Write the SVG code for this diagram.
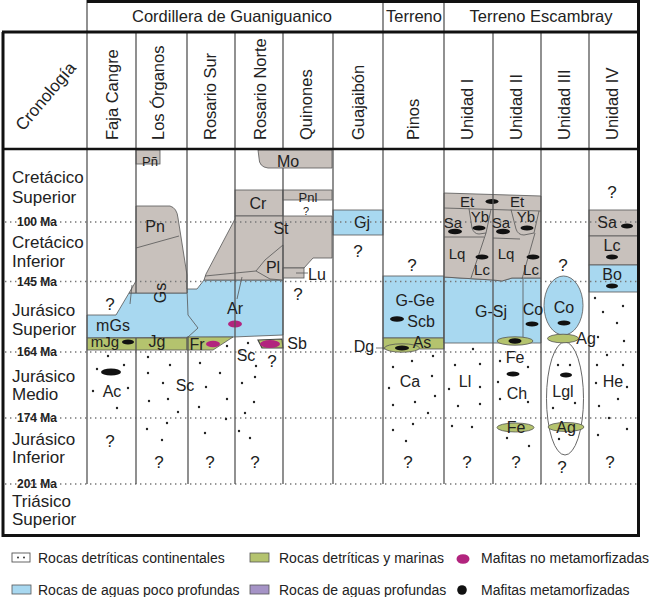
<svg xmlns="http://www.w3.org/2000/svg" width="650" height="597" viewBox="0 0 650 597">
<style>
text{font-family:"Liberation Sans",Arial,sans-serif;fill:#222}
.t{font-size:16px;text-anchor:middle}
.s{font-size:15px;text-anchor:middle}
.xs{font-size:13px;text-anchor:middle}
.q{font-size:17px;text-anchor:middle}
.era{font-size:17px}
.ma{font-size:12px;font-weight:bold}
.hd{font-size:16.5px}
.lg{font-size:14px}
.gy{fill:#c8c1bc;stroke:#555;stroke-width:0.8}
.bl{fill:#a8d8f0;stroke:#555;stroke-width:0.8}
.gn{fill:#b4c36e;stroke:#555;stroke-width:0.8}
.mg{fill:#b2247e}
.k{fill:#111}
.ln{fill:none;stroke:#555;stroke-width:0.8}
.col{fill:none;stroke:#555;stroke-width:1.3}
.dl{fill:none;stroke:#777;stroke-width:1.3;stroke-dasharray:1.4 3.6}
.d{fill:#222}
</style>

<g id="fills">
  <!-- Guaniguanico blue -->
  <path class="bl" d="M87,315 L116,315 L129,293 L187,293 L187,289 L197,289 L204,280 L283,280 L283,335 L233,337 L87,338 Z"/>
  <!-- Los Organos gray Pn -->
  <path class="gy" d="M136,206 L170,206 Q177,208 178,218 L187,275 L187,293 L129,293 L136,281 Z"/>
  <path class="ln" d="M136,248 L179,236"/>
  <rect class="gy" x="136" y="150" width="24" height="14"/>
  <!-- Mo -->
  <path class="gy" d="M258,150 H332 V168 H268 Q259,167 259,158 Z"/>
  <!-- Cr / Pnl -->
  <rect class="gy" x="235" y="190" width="48" height="26"/>
  <rect class="gy" x="283" y="190" width="49" height="10"/>
  <!-- St -->
  <path class="gy" d="M235,216 L332,216 L332,258 L313,258 L304,268 L283,268 L283,280 L204,280 L206,274 L235,219 Z"/>
  <path class="ln" d="M205,276 L256,271"/>
  <path class="gy" d="M283,245 L265,260 L256,271 L270,279 L283,280 Z"/>
  <rect class="gy" x="283" y="268" width="21" height="10"/>
  <path class="ln" d="M296,273 L308,273"/>
  <path class="ln" d="M242,277 L237,299"/>
  <path class="ln" d="M132,285 L130,304"/>
  <!-- greens -->
  <rect class="gn" x="87" y="338" width="100" height="12"/>
  <path class="gn" d="M187,337 L233,337 L213,350 L187,350 Z"/>
  <path d="M258,340 L282,339 L283,348 L262,348 Z" fill="#b4c36e" stroke="#444" stroke-width="1.2"/>
  <path class="ln" d="M187,289 L188,315 L198,328 L188,337"/>
  <!-- Gj -->
  <rect class="bl" x="333" y="210" width="50" height="25"/>
  <!-- Pinos -->
  <rect class="bl" x="383" y="276" width="61" height="62"/>
  <rect class="gn" x="383" y="338" width="61" height="11"/>
  <!-- Escambray I/II -->
  <path class="bl" d="M444,277 L460,278 L493,280 L502,281 L512,278 L541,278 V343 H444 Z"/>
  <path class="ln" d="M523,279 V343"/>
  <path class="gy" d="M444,193 L541,196 L541,278 L512,278 L502,281 L493,280 L460,278 L444,277 Z"/>
  <path class="ln" d="M444,208 L541,211"/>
  <path class="ln" d="M469,208.5 L472,228 Q474,234 479,234 L486,233 L491,209.5"/>
  <path class="ln" d="M444,237 L484,237"/>
  <path class="ln" d="M486,233 L471,278"/>
  <path class="ln" d="M511,209.5 L516,229 Q518,235 524,235 L534,233 L539,211"/>
  <path class="ln" d="M493,238 L520,239"/>
  <path class="ln" d="M535,233 L522,279"/>
  <!-- Unidad III -->
  <ellipse class="bl" cx="563.5" cy="305.5" rx="19.5" ry="29.5"/>
  <ellipse cx="565" cy="398.5" rx="18.5" ry="56.5" fill="none" stroke="#555" stroke-width="0.9"/>
  <!-- Unidad IV -->
  <rect class="gy" x="589" y="210" width="49" height="26"/>
  <rect class="gy" x="589" y="236" width="49" height="29"/>
  <rect class="bl" x="589" y="265" width="49" height="27"/>
</g>

<g id="time-lines" class="dl">
  <path d="M5,222 H637"/>
  <path d="M5,281.5 H637"/>
  <path d="M5,352 H637"/>
  <path d="M5,418 H637"/>
  <path d="M5,484 H637"/>
</g>

<g id="ellipses">
  <ellipse class="k" cx="128" cy="342" rx="6" ry="2.6"/>
  <ellipse class="k" cx="111" cy="372" rx="10" ry="3.6"/>
  <ellipse class="mg" cx="213" cy="344" rx="7" ry="3.3"/>
  <ellipse class="mg" cx="235" cy="324" rx="7" ry="3.5"/>
  <ellipse class="mg" cx="270" cy="344" rx="10" ry="4"/>
  <ellipse class="k" cx="397" cy="319" rx="7" ry="2.8"/>
  <ellipse cx="402" cy="348" rx="17.5" ry="4.2" fill="#b4c36e" stroke="#555" stroke-width="0.8"/>
  <ellipse class="k" cx="402" cy="348" rx="7" ry="2.6"/>
  <ellipse class="k" cx="492" cy="201.5" rx="6.5" ry="2.6"/>
  <ellipse class="k" cx="455" cy="231.5" rx="7" ry="2.8"/>
  <ellipse class="k" cx="479" cy="228" rx="6.5" ry="2.6"/>
  <ellipse class="k" cx="482" cy="257" rx="6.5" ry="2.6"/>
  <ellipse class="k" cx="503" cy="231.5" rx="7" ry="2.8"/>
  <ellipse class="k" cx="527" cy="228" rx="6.5" ry="2.6"/>
  <ellipse class="k" cx="533" cy="257" rx="6.5" ry="2.6"/>
  <ellipse class="k" cx="532" cy="324" rx="6.5" ry="2.6"/>
  <ellipse cx="515" cy="341" rx="18" ry="4.2" fill="#b4c36e" stroke="#555" stroke-width="0.8"/>
  <ellipse class="k" cx="515" cy="341" rx="6.5" ry="2.8"/>
  <ellipse class="k" cx="564" cy="323" rx="6.5" ry="2.6"/>
  <ellipse cx="563" cy="338.5" rx="15.5" ry="4.3" fill="#b4c36e" stroke="#555" stroke-width="0.8"/>
  <ellipse class="k" cx="513" cy="374" rx="6.5" ry="2.6"/>
  <ellipse cx="515.5" cy="427.5" rx="18.5" ry="4.5" fill="#b4c36e" stroke="#555" stroke-width="0.8"/>
  <ellipse class="k" cx="566" cy="375" rx="6" ry="2.5"/>
  <ellipse cx="566" cy="427" rx="18" ry="4.5" fill="#b4c36e" stroke="#555" stroke-width="0.8"/>
  <ellipse class="k" cx="627" cy="226" rx="6" ry="2.5"/>
  <ellipse class="k" cx="612" cy="257" rx="6" ry="2.5"/>
  <ellipse class="k" cx="612" cy="286" rx="6" ry="2.5"/>
  <path class="ln" d="M376,348 L385,348"/>
</g>

<g id="dots" class="d">
  <circle cx="108" cy="356" r="1.2"/><circle cx="124" cy="365" r="1.2"/><circle cx="97" cy="369" r="1.2"/><circle cx="93" cy="391" r="1.2"/><circle cx="128" cy="388" r="1.2"/><circle cx="117" cy="408" r="1.2"/>
  <circle cx="148" cy="357" r="1.2"/><circle cx="170" cy="365" r="1.2"/><circle cx="148" cy="373" r="1.2"/><circle cx="163" cy="383" r="1.2"/><circle cx="149" cy="401" r="1.2"/><circle cx="168" cy="399" r="1.2"/><circle cx="178" cy="412" r="1.2"/><circle cx="167" cy="423" r="1.2"/><circle cx="147" cy="429" r="1.2"/><circle cx="162" cy="440" r="1.2"/>
  <circle cx="200" cy="363" r="1.2"/><circle cx="220" cy="373" r="1.2"/><circle cx="206" cy="387" r="1.2"/><circle cx="227" cy="399" r="1.2"/><circle cx="199" cy="407" r="1.2"/><circle cx="226" cy="419" r="1.2"/><circle cx="205" cy="433" r="1.2"/><circle cx="227" cy="346" r="1.2"/>
  <circle cx="248" cy="343" r="1.2"/><circle cx="256" cy="366" r="1.2"/><circle cx="242" cy="383" r="1.2"/><circle cx="255" cy="377" r="1.2"/><circle cx="254" cy="402" r="1.2"/><circle cx="245" cy="413" r="1.2"/><circle cx="239" cy="431" r="1.2"/><circle cx="250" cy="438" r="1.2"/>
  <circle cx="433" cy="356" r="1.2"/><circle cx="412" cy="361" r="1.2"/><circle cx="393" cy="367" r="1.2"/><circle cx="432" cy="376" r="1.2"/><circle cx="389" cy="388" r="1.2"/><circle cx="393" cy="405" r="1.2"/><circle cx="415" cy="402" r="1.2"/><circle cx="435" cy="396" r="1.2"/><circle cx="428" cy="413" r="1.2"/><circle cx="393" cy="430" r="1.2"/><circle cx="413" cy="424" r="1.2"/><circle cx="406" cy="441" r="1.2"/>
  <circle cx="473" cy="349" r="1.2"/><circle cx="455" cy="365" r="1.2"/><circle cx="480" cy="364" r="1.2"/><circle cx="449" cy="389" r="1.2"/><circle cx="480" cy="387" r="1.2"/><circle cx="458" cy="406" r="1.2"/><circle cx="480" cy="404" r="1.2"/><circle cx="452" cy="426" r="1.2"/><circle cx="472" cy="427" r="1.2"/>
  <circle cx="500" cy="361" r="1.2"/><circle cx="528" cy="367" r="1.2"/><circle cx="498" cy="382" r="1.2"/><circle cx="500" cy="399" r="1.2"/><circle cx="528" cy="402" r="1.2"/><circle cx="507" cy="438" r="1.2"/><circle cx="529" cy="446" r="1.2"/>
  <circle cx="558" cy="365" r="1.2"/><circle cx="570" cy="365" r="1.2"/><circle cx="553" cy="408" r="1.2"/><circle cx="575" cy="403" r="1.2"/><circle cx="559" cy="439" r="1.2"/>
  <circle cx="595" cy="298" r="1.2"/><circle cx="623" cy="306" r="1.2"/><circle cx="603" cy="312" r="1.2"/><circle cx="617" cy="323" r="1.2"/><circle cx="598" cy="337" r="1.2"/><circle cx="624" cy="341" r="1.2"/><circle cx="607" cy="355" r="1.2"/><circle cx="597" cy="365" r="1.2"/><circle cx="623" cy="365" r="1.2"/><circle cx="596" cy="383" r="1.2"/><circle cx="627" cy="387" r="1.2"/><circle cx="599" cy="406" r="1.2"/><circle cx="618" cy="399" r="1.2"/><circle cx="609" cy="418" r="1.2"/><circle cx="627" cy="429" r="1.2"/><circle cx="598" cy="435" r="1.2"/>
</g>

<g id="column-lines" class="col">
  <path d="M87,0 V484"/>
  <path d="M136,32 V293 M136,338 V484"/>
  <path d="M187,32 V289 M188,337 V484"/>
  <path d="M235,32 V484"/>
  <path d="M283,32 V149 M283,168 V484"/>
  <path d="M333,32 V484"/>
  <path d="M383,0 V484"/>
  <path d="M444,0 V484"/>
  <path d="M493,32 V484"/>
  <path d="M541,32 V484"/>
  <path d="M589,32 V484"/>
</g>

<g id="frame" fill="none" stroke="#111">
  <path d="M87,1.5 H638.5 V535.5 H3 V32" stroke-width="3"/>
  <path d="M2,32 H640" stroke-width="3"/>
  <path d="M3,149 H639" stroke-width="2.5"/>
</g>

<g id="header">
  <text class="hd" x="232" y="22" text-anchor="middle">Cordillera de Guaniguanico</text>
  <text class="hd" x="414" y="22" text-anchor="middle">Terreno</text>
  <text class="hd" x="541" y="22" text-anchor="middle">Terreno Escambray</text>
  <text class="era" transform="translate(50,100) rotate(-50)" text-anchor="middle">Cronología</text>
  <text class="hd" transform="translate(118,140) rotate(-90)">Faja Cangre</text>
  <text class="hd" transform="translate(164,140) rotate(-90)">Los Órganos</text>
  <text class="hd" transform="translate(216,140) rotate(-90)">Rosario Sur</text>
  <text class="hd" transform="translate(266,140) rotate(-90)">Rosario Norte</text>
  <text class="hd" transform="translate(312,140) rotate(-90)">Quinones</text>
  <text class="hd" transform="translate(364,140) rotate(-90)">Guajaibón</text>
  <text class="hd" transform="translate(419,140) rotate(-90)">Pinos</text>
  <text class="hd" transform="translate(473,140) rotate(-90)">Unidad I</text>
  <text class="hd" transform="translate(522,140) rotate(-90)">Unidad II</text>
  <text class="hd" transform="translate(570,140) rotate(-90)">Unidad III</text>
  <text class="hd" transform="translate(618,140) rotate(-90)">Unidad IV</text>
</g>

<g id="chronology">
  <text class="era" x="12" y="183">Cretácico</text>
  <text class="era" x="12" y="203">Superior</text>
  <text class="ma" x="17" y="226">100 Ma</text>
  <text class="era" x="12" y="248">Cretácico</text>
  <text class="era" x="12" y="267">Inferior</text>
  <text class="ma" x="17" y="286">145 Ma</text>
  <text class="era" x="12" y="316">Jurásico</text>
  <text class="era" x="12" y="335">Superior</text>
  <text class="ma" x="17" y="356">164 Ma</text>
  <text class="era" x="12" y="382">Jurásico</text>
  <text class="era" x="12" y="400">Medio</text>
  <text class="ma" x="17" y="422">174 Ma</text>
  <text class="era" x="12" y="445">Jurásico</text>
  <text class="era" x="12" y="463">Inferior</text>
  <text class="ma" x="17" y="488">201 Ma</text>
  <text class="era" x="12" y="507">Triásico</text>
  <text class="era" x="12" y="525">Superior</text>
</g>

<g id="guaniguanico-labels">
  <text class="q" x="110" y="310">?</text>
  <text class="t" x="113" y="331">mGs</text>
  <text class="s" x="105" y="347">mJg</text>
  <text class="t" x="157" y="347">Jg</text>
  <text class="t" x="112" y="397">Ac</text>
  <text class="q" x="110" y="447">?</text>
  <text class="xs" x="150" y="166">Pñ</text>
  <text class="t" x="155" y="232">Pn</text>
  <text class="t" transform="translate(166,293) rotate(-90)">Gs</text>
  <text class="t" x="185" y="391">Sc</text>
  <text class="q" x="159" y="468">?</text>
  <text class="t" x="197" y="350">Fr</text>
  <text class="q" x="210" y="468">?</text>
  <text class="t" x="288" y="167">Mo</text>
  <text class="t" x="258" y="209">Cr</text>
  <text class="xs" x="308" y="202">Pnl</text>
  <text x="306" y="215" font-size="11" text-anchor="middle">?</text>
  <text class="t" x="281" y="234">St</text>
  <text class="t" x="273" y="273">Pl</text>
  <text class="t" x="317" y="280">Lu</text>
  <text class="q" x="298" y="300">?</text>
  <text class="t" x="235" y="314">Ar</text>
  <text class="t" x="297" y="349">Sb</text>
  <text class="t" x="246" y="361">Sc</text>
  <text class="q" x="272" y="367">?</text>
  <text class="q" x="255" y="468">?</text>
  <text class="t" x="362" y="228">Gj</text>
  <text class="q" x="358" y="257">?</text>
  <text class="t" x="364" y="352">Dg</text>
</g>

<g id="pinos-labels">
  <text class="q" x="412" y="271">?</text>
  <text class="t" x="415" y="306">G-Ge</text>
  <text class="t" x="421" y="327">Scb</text>
  <text class="t" x="422" y="348">As</text>
  <text class="t" x="410" y="387">Ca</text>
  <text class="q" x="408" y="468">?</text>
</g>

<g id="escambray-labels">
  <text class="s" x="467" y="207">Et</text>
  <text class="s" x="453" y="228">Sa</text>
  <text class="s" x="480" y="222">Yb</text>
  <text class="s" x="457" y="259">Lq</text>
  <text class="s" x="482" y="275">Lc</text>
  <text class="s" x="517" y="207">Et</text>
  <text class="s" x="501" y="228">Sa</text>
  <text class="s" x="526" y="222">Yb</text>
  <text class="s" x="506" y="259">Lq</text>
  <text class="s" x="531" y="275">Lc</text>
  <text class="t" x="491" y="317">G-Sj</text>
  <text class="t" x="533" y="315">Co</text>
  <text class="t" x="465" y="387">Ll</text>
  <text class="q" x="467" y="468">?</text>
  <text class="t" x="515" y="363">Fe</text>
  <text class="t" x="517" y="399">Ch</text>
  <text class="t" x="516" y="433">Fe</text>
  <text class="q" x="516" y="468">?</text>
  <text class="q" x="563" y="271">?</text>
  <text class="t" x="564" y="313">Co</text>
  <text class="t" x="586" y="344">Ag</text>
  <text class="t" x="563" y="397">Lgl</text>
  <text class="t" x="566" y="433">Ag</text>
  <text class="q" x="562" y="473">?</text>
  <text class="q" x="612" y="198">?</text>
  <text class="t" x="607" y="228">Sa</text>
  <text class="t" x="612" y="251">Lc</text>
  <text class="t" x="612" y="280">Bo</text>
  <text class="t" x="613" y="387">He</text>
  <text class="q" x="610" y="468">?</text>
</g>

<g id="legend">
  <rect x="12" y="553" width="18" height="9" fill="#fff" stroke="#555" stroke-width="0.9"/>
  <circle cx="18" cy="557.5" r="0.9" class="d"/><circle cx="24" cy="557.5" r="0.9" class="d"/>
  <text class="lg" x="38" y="563">Rocas detríticas continentales</text>
  <rect class="gn" x="250" y="553" width="19" height="9"/>
  <text class="lg" x="279" y="563">Rocas detríticas y marinas</text>
  <ellipse class="mg" cx="463" cy="559" rx="6.5" ry="4.8"/>
  <text class="lg" x="481" y="563">Mafitas no metamorfizadas</text>
  <rect class="bl" x="12" y="585" width="19" height="9"/>
  <text class="lg" x="38" y="595">Rocas de aguas poco profundas</text>
  <rect x="250" y="585" width="19" height="9" fill="#a593c6" stroke="#555" stroke-width="0.8"/>
  <text class="lg" x="279" y="595">Rocas de aguas profundas</text>
  <circle class="k" cx="462" cy="590" r="4.8"/>
  <text class="lg" x="481" y="595">Mafitas metamorfizadas</text>
</g>
</svg>
